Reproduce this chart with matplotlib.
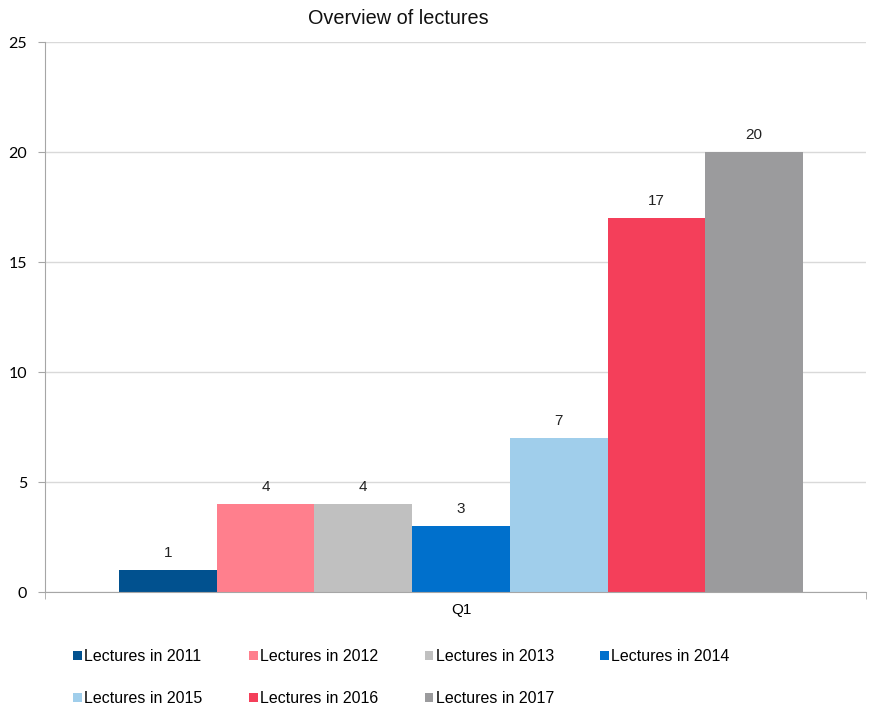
import numpy as np
import matplotlib.pyplot as plt

# data
years = ['2011', '2012', '2013', '2014', '2015', '2016', '2017']
lectures = [1, 4, 4, 3, 7, 17, 20]
colors = ['#01518F', '#FF7F8D', '#C0C0C0', '#0070CC', '#A0CEEB', '#F43F5A', '#9B9B9D']
category = 'Q1'
yticks = [0, 5, 10, 15, 20, 25]

fig = plt.figure(figsize=(8.69, 7.08), dpi=100)
ax = fig.add_axes([45 / 869, 116 / 708, 821 / 869, 550 / 708])

bw = 97.7 / 821
n = len(years)
handles = []
for i in range(n):
    x = (i - (n - 1) / 2) * bw
    b = ax.bar(x, lectures[i], width=bw, color=colors[i], label=f'Lectures in {years[i]}', zorder=3)
    handles.append(b)
    ax.text(x, lectures[i] + 0.45, str(lectures[i]), ha='center', va='bottom',
            fontsize=11, family='Liberation Sans', color='#222222')

off = 5.5 / 821
ax.set_xlim(-0.5 - off, 0.5 - off)
ax.set_ylim(0, 25)
ax.set_yticks(yticks)
ax.set_yticklabels([str(t) for t in yticks], family='Lato', fontsize=11.5)
ax.set_xticks([0])
ax.set_xticklabels([category], family='Liberation Sans', fontsize=11)
ax.set_xticks([-0.5 - off, 0.5 - off], minor=True)
ax.tick_params(axis='x', which='major', length=0, pad=8)
ax.tick_params(axis='x', which='minor', length=5, color='#A6A6A6')
ax.tick_params(axis='y', length=5, color='#A6A6A6', pad=8)
ax.grid(axis='y', color='#D9D9D9', linewidth=1, zorder=0)
for s in ['top', 'right']:
    ax.spines[s].set_visible(False)
for s in ['left', 'bottom']:
    ax.spines[s].set_color('#A6A6A6')
ax.spines['bottom'].set_zorder(4)

fig.text(398 / 869, 1 - 19 / 708, 'Overview of lectures', ha='center', va='center',
         family='Liberation Sans', fontsize=14.3, color='#111111')

order = [0, 4, 1, 5, 2, 6, 3]
fig.legend([handles[i] for i in order], [f'Lectures in {years[i]}' for i in order],
           ncol=4, loc='upper left', bbox_to_anchor=(73 / 869, 1 - 649 / 708),
           frameon=False, prop={'family': 'Liberation Sans', 'size': 11.5},
           handlelength=0.55, handleheight=0.55, handletextpad=0.15,
           columnspacing=2.9, labelspacing=1.7, borderpad=0, borderaxespad=0)

fig.savefig('out.png', dpi=100)
